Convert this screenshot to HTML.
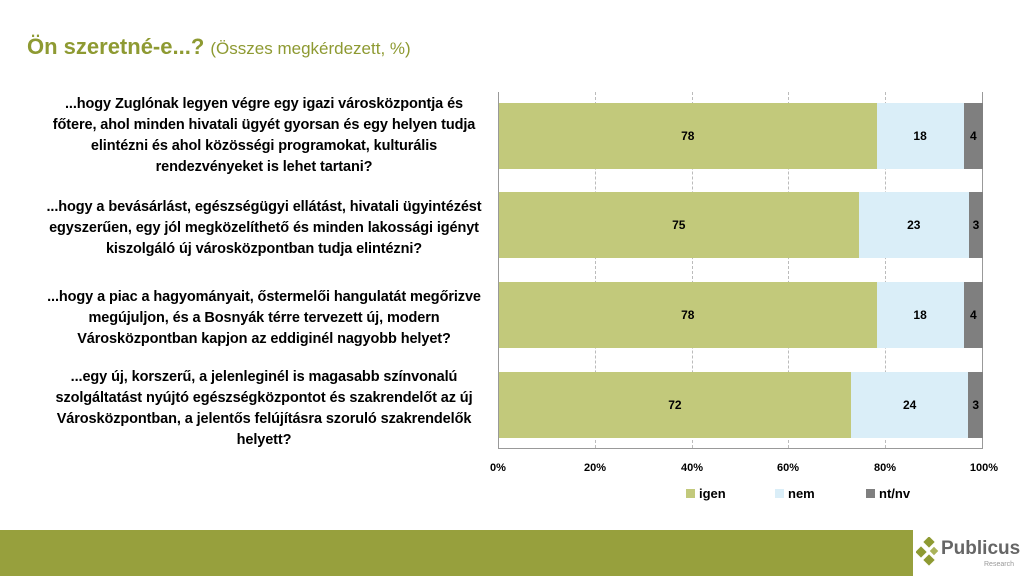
<!DOCTYPE html><html><head><style>
body{margin:0;width:1024px;height:576px;background:#fff;position:relative;overflow:hidden;font-family:"Liberation Sans",sans-serif}
.t{position:absolute;left:27px;top:34px;font-size:22px;font-weight:bold;color:#8e9a32;white-space:nowrap}
.t span{font-size:17px;font-weight:normal}
.q{position:absolute;left:4px;width:520px;text-align:center;font-size:14.5px;font-weight:bold;line-height:21px;color:#000;letter-spacing:-0.1px}
.bar{position:absolute;height:66px;display:flex}
.bar div{height:100%;display:flex;align-items:center;justify-content:center;font-size:12px;font-weight:bold}
.g{background:#c2c97b}.n{background:#daeef8}.x{background:#7f7f7f}
.gl{position:absolute;top:92px;height:356px;border-left:1px dashed #bbb}
.tk{position:absolute;top:462px;font-size:11px;font-weight:bold;width:40px;text-align:center}
.lg{position:absolute;top:486px;font-size:13px;font-weight:bold}
.lg i{display:inline-block;width:9px;height:9px;margin-right:4px}
</style></head><body>
<div class="t">Ön szeretné-e...? <span>(Összes megkérdezett, %)</span></div>
<div class="gl" style="left:595px"></div><div class="gl" style="left:692px"></div><div class="gl" style="left:788px"></div><div class="gl" style="left:885px"></div>
<div style="position:absolute;left:982px;top:92px;height:356px;border-left:1px solid #999"></div>
<div style="position:absolute;left:498px;top:92px;height:356px;border-left:1px solid #999"></div>
<div style="position:absolute;left:498px;top:448px;width:485px;border-top:1px solid #999"></div>
<div class="q" style="top:94px">...hogy Zuglónak legyen végre egy igazi városközpontja és<br>főtere, ahol minden hivatali ügyét gyorsan és egy helyen tudja<br>elintézni és ahol közösségi programokat, kulturális<br>rendezvényeket is lehet tartani?</div>
<div class="q" style="top:197px">...hogy a bevásárlást, egészségügyi ellátást, hivatali ügyintézést<br>egyszerűen, egy jól megközelíthető és minden lakossági igényt<br>kiszolgáló új városközpontban tudja elintézni?</div>
<div class="q" style="top:287px">...hogy a piac a hagyományait, őstermelői hangulatát megőrizve<br>megújuljon, és a Bosnyák térre tervezett új, modern<br>Városközpontban kapjon az eddiginél nagyobb helyet?</div>
<div class="q" style="top:367px">...egy új, korszerű, a jelenleginél is magasabb színvonalú<br>szolgáltatást nyújtó egészségközpontot és szakrendelőt az új<br>Városközpontban, a jelentős felújításra szoruló szakrendelők<br>helyett?</div>
<div class="bar" style="left:499px;top:103px;width:484px"><div class="g" style="width:78%">78</div><div class="n" style="width:18%">18</div><div class="x" style="width:4%">4</div></div>
<div class="bar" style="left:499px;top:192px;width:484px"><div class="g" style="width:74.3%">75</div><div class="n" style="width:22.8%">23</div><div class="x" style="width:2.9%">3</div></div>
<div class="bar" style="left:499px;top:282px;width:484px"><div class="g" style="width:78%">78</div><div class="n" style="width:18%">18</div><div class="x" style="width:4%">4</div></div>
<div class="bar" style="left:499px;top:372px;width:484px"><div class="g" style="width:72.7%">72</div><div class="n" style="width:24.3%">24</div><div class="x" style="width:3%">3</div></div>
<div class="tk" style="left:478px">0%</div><div class="tk" style="left:575px">20%</div><div class="tk" style="left:672px">40%</div><div class="tk" style="left:768px">60%</div><div class="tk" style="left:865px">80%</div><div class="tk" style="left:964px">100%</div>
<div class="lg" style="left:686px"><i class="g"></i>igen</div>
<div class="lg" style="left:775px"><i class="n"></i>nem</div>
<div class="lg" style="left:866px"><i class="x"></i>nt/nv</div>
<div style="position:absolute;left:0;top:530px;width:913px;height:46px;background:#97a03d"></div>
<svg style="position:absolute;left:916px;top:537px" width="28" height="30"><g fill="#8e9a32"><rect x="9" y="1" width="8" height="8" transform="rotate(45 13 5)"/><rect x="1" y="11" width="8" height="8" transform="rotate(45 5 15)"/><rect x="9" y="19" width="8" height="8" transform="rotate(45 13 23)"/><rect x="15" y="11" width="6" height="6" transform="rotate(45 18 14)" fill="#aab35a"/></g></svg>
<div style="position:absolute;left:941px;top:538px;font-size:19px;font-weight:bold;color:#666">Publicus</div>
<div style="position:absolute;left:984px;top:561px;font-size:7px;color:#999">Research</div>
</body></html>
